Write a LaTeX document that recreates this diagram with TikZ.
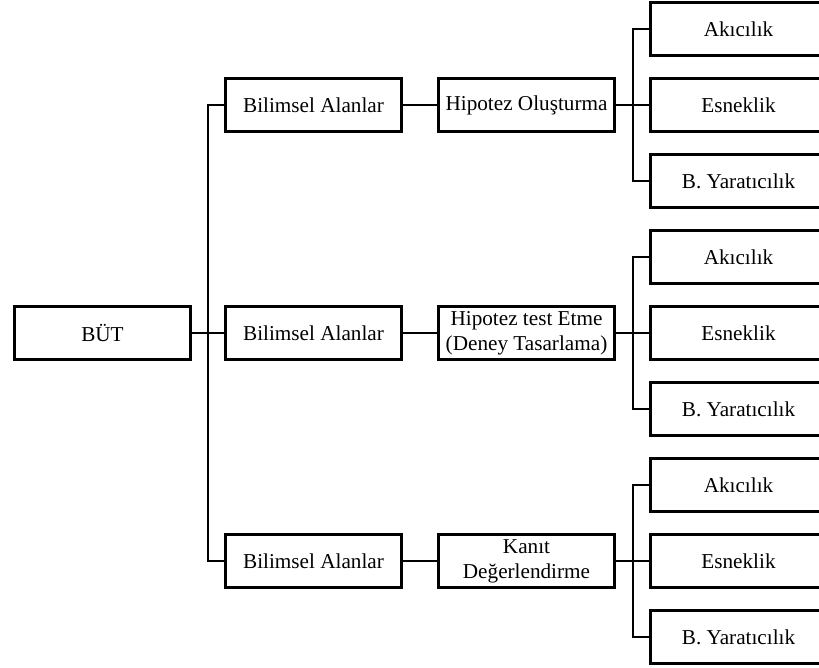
\documentclass[tikz,border=0pt]{standalone}
\usepackage{fontspec}
\setmainfont{Liberation Serif}
\usepackage{tikz}
\usetikzlibrary{positioning, calc}

\tikzset{
  kutu/.style={draw, line width=1.6pt, align=center, inner sep=2pt,
    minimum width=88pt, minimum height=26.4pt,
    font=\fontsize{10.6}{12.5}\selectfont},
  bag/.style={line width=1pt}
}

\begin{document}
\begin{tikzpicture}[x=0.5pt, y=-0.5pt, on grid]
            \useasboundingbox (0,0) rectangle (819,668);
            \node [kutu] (but) at (102.5,333) {BÜT};
            \node [kutu, right = 105.5pt of but] (bil2) {Bilimsel Alanlar};
            \node [kutu, above = 114pt of bil2] (bil1) {Bilimsel Alanlar};
            \node [kutu, below = 114pt of bil2] (bil3) {Bilimsel Alanlar};
            \node [kutu, right = 106.5pt of bil1] (hip1) {Hipotez Oluşturma};
            \node [kutu, right = 106.5pt of bil2] (hip2) {Hipotez test Etme\\(Deney Tasarlama)};
            \node [kutu, right = 106.5pt of bil3] (hip3) {Kanıt\\Değerlendirme};
            % ilk grup
            \node [kutu, right = 106pt of hip1] (esn1) {Esneklik};
            \node [kutu, above = 38pt of esn1] (aki1) {Akıcılık};
            \node [kutu, below = 38pt of esn1] (yar1) {B. Yaratıcılık};
            % ikinci grup
            \node [kutu, right = 106pt of hip2] (esn2) {Esneklik};
            \node [kutu, above = 38pt of esn2] (aki2) {Akıcılık};
            \node [kutu, below = 38pt of esn2] (yar2) {B. Yaratıcılık};
            % ucuncu grup
            \node [kutu, right = 106pt of hip3] (esn3) {Esneklik};
            \node [kutu, above = 38pt of esn3] (aki3) {Akıcılık};
            \node [kutu, below = 38pt of esn3] (yar3) {B. Yaratıcılık};
            \coordinate (govde) at ($(but.east)!0.5!(bil2.west)$);
            \coordinate (dal1) at ($(hip1.east)!0.5!(esn1.west)$);
            \coordinate (dal2) at ($(hip2.east)!0.5!(esn2.west)$);
            \coordinate (dal3) at ($(hip3.east)!0.5!(esn3.west)$);
            \draw [bag] (but) -- (bil2);
            \draw [bag] (bil1.west) -| (govde) |- (bil3.west);
            \draw [bag] (bil1) -- (hip1);
            \draw [bag] (bil2) -- (hip2);
            \draw [bag] (bil3) -- (hip3);
            \draw [bag] (hip1) -- (esn1);
            \draw [bag] (hip2) -- (esn2);
            \draw [bag] (hip3) -- (esn3);
            \draw [bag] (aki1.west) -| (dal1) |- (yar1.west);
            \draw [bag] (aki2.west) -| (dal2) |- (yar2.west);
            \draw [bag] (aki3.west) -| (dal3) |- (yar3.west);
        \end{tikzpicture}
\end{document}
